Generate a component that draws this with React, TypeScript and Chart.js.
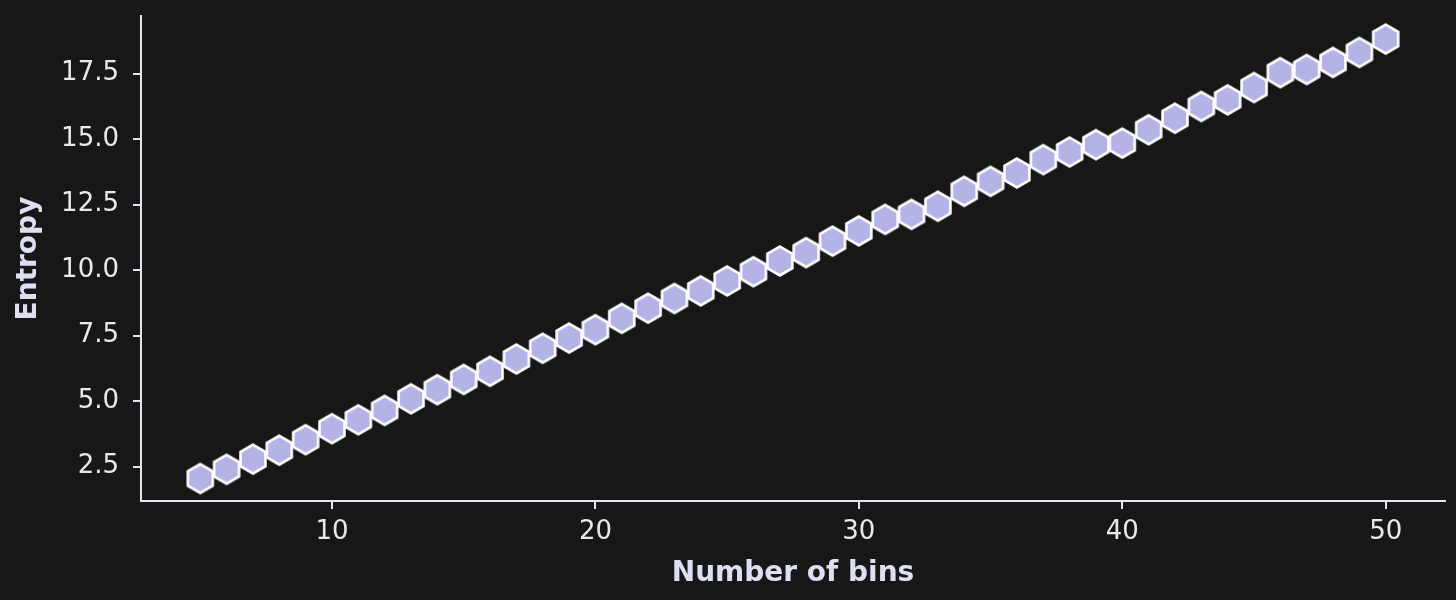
import React, { useEffect, useRef } from "react";
import { Chart, registerables } from "chart.js";

Chart.register(...registerables);

const bins: number[] = [
  5, 6, 7, 8, 9, 10, 11, 12, 13, 14, 15, 16, 17, 18, 19, 20, 21, 22, 23, 24, 25, 26, 27,
  28, 29, 30, 31, 32, 33, 34, 35, 36, 37, 38, 39, 40, 41, 42, 43, 44, 45, 46, 47, 48, 49, 50,
];
const entropy: number[] = [
  2.05, 2.4, 2.79, 3.13, 3.53, 3.95, 4.29, 4.65, 5.09, 5.44, 5.83, 6.14, 6.61, 7.02, 7.41,
  7.73, 8.16, 8.55, 8.92, 9.21, 9.59, 9.94, 10.35, 10.67, 11.11, 11.5, 11.94, 12.13, 12.44,
  13.01, 13.39, 13.71, 14.22, 14.51, 14.79, 14.85, 15.36, 15.8, 16.25, 16.5, 16.97, 17.54,
  17.66, 17.93, 18.31, 18.82,
];
const xTickValues: number[] = [10, 20, 30, 40, 50];
const yTickValues: number[] = [2.5, 5.0, 7.5, 10.0, 12.5, 15.0, 17.5];
const xTitle = "Number of bins";
const yTitle = "Entropy";

const BG = "#171717";
const SPINE = "#e4e4f0";
const TICK_TEXT = "#e8e8ee";
const TITLE_TEXT = "#dde0f2";
const FILL = "#b3b3e6";

function makeHex(r: number, fill: string, stroke: string, lw: number): HTMLCanvasElement {
  const size = 36;
  const c = document.createElement("canvas");
  c.width = size;
  c.height = size;
  const ctx = c.getContext("2d")!;
  ctx.translate(size / 2, size / 2);
  ctx.beginPath();
  for (let i = 0; i < 6; i++) {
    const a = -Math.PI / 2 + (i * Math.PI) / 3;
    const x = r * Math.cos(a);
    const y = r * Math.sin(a);
    if (i === 0) ctx.moveTo(x, y);
    else ctx.lineTo(x, y);
  }
  ctx.closePath();
  ctx.fillStyle = fill;
  ctx.fill();
  ctx.lineWidth = lw;
  ctx.strokeStyle = stroke;
  ctx.lineJoin = "miter";
  ctx.stroke();
  return c;
}

const noPadding = () => ({ left: 0, top: 0, right: 0, bottom: 0 });

export default function App() {
  const canvasRef = useRef<HTMLCanvasElement | null>(null);

  useEffect(() => {
    document.body.style.margin = "0";
    document.body.style.background = BG;
    const hex = makeHex(14.4, FILL, "#ffffff", 2.6);
    const tickFont = { family: "'DejaVu Sans', sans-serif", size: 26 };
    const titleFont = { family: "'DejaVu Sans', sans-serif", size: 28, weight: "bold" as const };
    const chart = new Chart(canvasRef.current!, {
      type: "scatter",
      data: {
        datasets: [
          {
            data: bins.map((b, i) => ({ x: b, y: entropy[i] })),
            pointStyle: hex,
            pointRadius: 15,
            pointHoverRadius: 15,
            backgroundColor: FILL,
            borderColor: "#ffffff",
          },
        ],
      },
      options: {
        animation: false,
        responsive: true,
        maintainAspectRatio: false,
        events: [],
        layout: { padding: { left: 0, top: 14, right: 0, bottom: 0 } },
        plugins: { legend: { display: false }, tooltip: { enabled: false } },
        scales: {
          x: {
            type: "linear",
            min: 2.75,
            max: 52.25,
            afterBuildTicks: (scale: any) => {
              scale.ticks = xTickValues.map((v) => ({ value: v }));
            },
            afterFit: (scale: any) => {
              scale.height = 99;
            },
            border: { display: true, color: SPINE, width: 2 },
            grid: {
              display: true,
              drawOnChartArea: false,
              drawTicks: true,
              tickLength: 8,
              color: SPINE,
              lineWidth: 2,
            },
            ticks: {
              color: TICK_TEXT,
              font: tickFont,
              padding: 8,
              maxRotation: 0,
              callback: (v: any) => String(v),
            },
            title: {
              display: true,
              text: xTitle,
              color: TITLE_TEXT,
              font: titleFont,
              padding: { top: 0, bottom: 9 },
            },
          },
          y: {
            type: "linear",
            min: 1.19,
            max: 19.7,
            afterBuildTicks: (scale: any) => {
              scale.ticks = yTickValues.map((v) => ({ value: v }));
            },
            afterFit: (scale: any) => {
              scale.width = 141;
              scale.paddingTop = 0;
              scale.paddingBottom = 0;
              scale.getPadding = noPadding;
            },
            border: { display: true, color: SPINE, width: 2 },
            grid: {
              display: true,
              drawOnChartArea: false,
              drawTicks: true,
              tickLength: 8,
              color: SPINE,
              lineWidth: 2,
            },
            ticks: {
              color: TICK_TEXT,
              font: tickFont,
              padding: 14,
              callback: (v: any) => Number(v).toFixed(1),
            },
            title: {
              display: true,
              text: yTitle,
              color: TITLE_TEXT,
              font: titleFont,
              padding: { top: 12, bottom: 0 },
            },
          },
        },
      },
    });
    return () => chart.destroy();
  }, []);

  return (
    <div style={{ width: 1456, height: 600, background: BG, overflow: "hidden", position: "relative" }}>
      <div style={{ width: 1461, height: 600, position: "relative" }}>
        <canvas ref={canvasRef} />
      </div>
    </div>
  );
}
